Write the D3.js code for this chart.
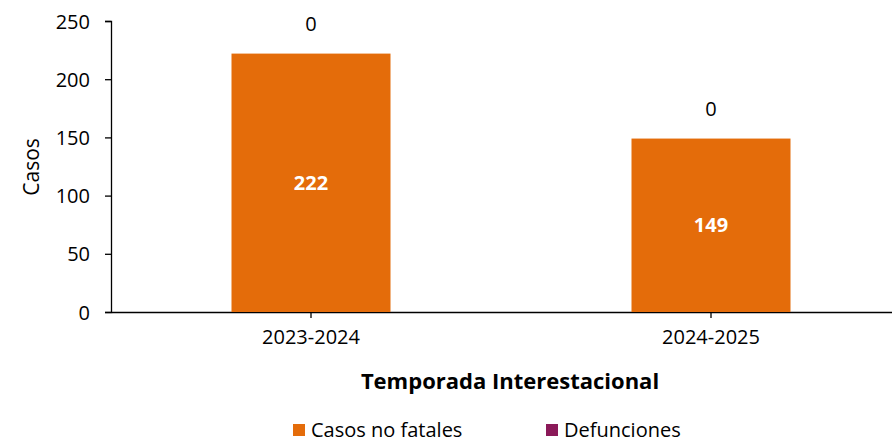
<!DOCTYPE html>
<html>
<head>
<meta charset="utf-8">
<script src="https://cdn.jsdelivr.net/npm/d3@7"></script>
<style>
body { margin: 0; background: #fff; }
text { font-family: "Open Sans", sans-serif; fill: #000; }
</style>
</head>
<body>
<div id="chart"></div>
<script>
var seasons = ["2023-2024", "2024-2025"];
var noFatales = [222, 149];
var defunciones = [0, 0];
var yTicks = [0, 50, 100, 150, 200, 250];
var seriesNames = ["Casos no fatales", "Defunciones"];
var seriesColors = ["#E46C0A", "#8B1A59"];

var svgWidth = 892, svgHeight = 444;

var svg = d3.select("#chart").append("svg")
  .attr("width", svgWidth)
  .attr("height", svgHeight);

var x = d3.scaleBand().domain(seasons).range([111, 911]).paddingInner(0).paddingOuter(0);
var y = d3.scaleLinear().domain([0, 250]).range([312, 21]);

// y axis
var yAxis = svg.append("g")
  .attr("transform", "translate(111,0)")
  .call(d3.axisLeft(y).tickValues(yTicks).tickSize(6).tickPadding(15));
yAxis.selectAll("text").attr("font-size", "20px").attr("dy", "0.35em");
yAxis.selectAll("line, path").attr("stroke", "#000").attr("stroke-width", 1.3);

// x axis
var xAxis = svg.append("g")
  .attr("transform", "translate(0,312)")
  .call(d3.axisBottom(x).tickSize(6).tickSizeOuter(0).tickPadding(12));
xAxis.selectAll("text").attr("font-size", "20px");
xAxis.selectAll("line, path").attr("stroke", "#000").attr("stroke-width", 1.3);

var barW = 159;

// stacked bars
svg.selectAll("rect.nf")
  .data(seasons)
  .enter().append("rect")
  .attr("class", "nf")
  .attr("x", d => x(d) + x.bandwidth() / 2 - barW / 2)
  .attr("width", barW)
  .attr("y", (d, i) => y(noFatales[i]))
  .attr("height", (d, i) => y(0) - y(noFatales[i]))
  .attr("fill", seriesColors[0]);

svg.selectAll("rect.def")
  .data(seasons)
  .enter().append("rect")
  .attr("class", "def")
  .attr("x", d => x(d) + x.bandwidth() / 2 - barW / 2)
  .attr("width", barW)
  .attr("y", (d, i) => y(noFatales[i] + defunciones[i]))
  .attr("height", (d, i) => y(noFatales[i]) - y(noFatales[i] + defunciones[i]))
  .attr("fill", seriesColors[1]);

// value labels
svg.selectAll("text.nfv")
  .data(seasons)
  .enter().append("text")
  .attr("x", d => x(d) + x.bandwidth() / 2)
  .attr("y", (d, i) => (y(noFatales[i]) + y(0)) / 2)
  .attr("dy", "0.35em")
  .attr("text-anchor", "middle")
  .attr("font-size", "20px")
  .attr("font-weight", "700")
  .style("fill", "#fff")
  .text((d, i) => noFatales[i]);

svg.selectAll("text.defv")
  .data(seasons)
  .enter().append("text")
  .attr("x", d => x(d) + x.bandwidth() / 2)
  .attr("y", (d, i) => y(noFatales[i] + defunciones[i]) - 30)
  .attr("dy", "0.35em")
  .attr("text-anchor", "middle")
  .attr("font-size", "20px")
  .text((d, i) => defunciones[i]);

// axis titles
svg.append("text")
  .attr("transform", "translate(39,167) rotate(-90)")
  .attr("text-anchor", "middle")
  .attr("font-size", "21px")
  .text("Casos");

svg.append("text")
  .attr("x", 510)
  .attr("y", 389)
  .attr("text-anchor", "middle")
  .attr("font-size", "22px")
  .attr("font-weight", "700")
  .text("Temporada Interestacional");

// legend
var legendX = [293, 546];
var legend = svg.selectAll("g.leg")
  .data(seriesNames)
  .enter().append("g")
  .attr("transform", (d, i) => `translate(${legendX[i]},424)`);
legend.append("rect")
  .attr("width", 12).attr("height", 12)
  .attr("fill", (d, i) => seriesColors[i]);
legend.append("text")
  .attr("x", 18).attr("y", 6).attr("dy", "0.35em")
  .attr("font-size", "20px")
  .text(d => d);
</script>
</body>
</html>
